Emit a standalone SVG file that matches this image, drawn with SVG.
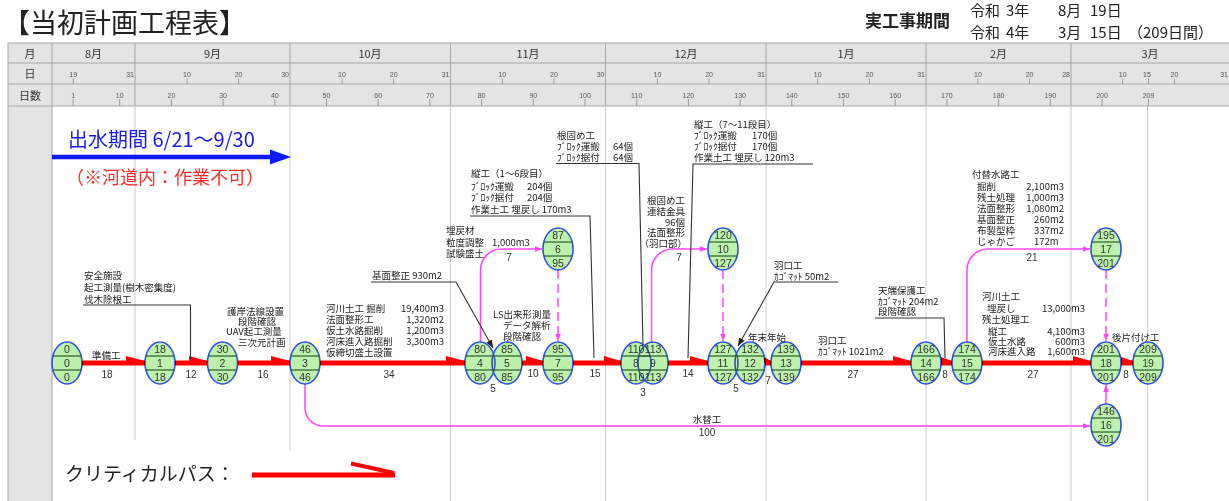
<svg xmlns="http://www.w3.org/2000/svg" width="1229" height="501" viewBox="0 0 1229 501">
<style>
.j{font-family:"Noto Sans CJK JP","Noto Sans",sans-serif;fill:#222}
.a{font-size:9.5px}
.e{text-anchor:end}
.m{text-anchor:middle}
.hdr{fill:#e4e4e4}
.g{stroke:#a6a6a6;stroke-width:1}
.vl{stroke:#cdcdcd;stroke-width:1}
.tk{font-family:"Liberation Sans",sans-serif;font-size:7px;fill:#555;text-anchor:middle}
.tke{text-anchor:end}
.tl{stroke:#888;stroke-width:0.8}
.mo{font-family:"Noto Sans CJK JP",sans-serif;font-size:11px;fill:#333;text-anchor:middle}
.nd ellipse{fill:#bdf2ad;stroke:#2f4fe0;stroke-width:1.6;mix-blend-mode:darken}
.nd line{stroke:#2e5a2e;stroke-width:1.2}
.nd text{font-family:"Liberation Sans",sans-serif;font-size:10.5px;fill:#333;text-anchor:middle}
.crit{stroke:#ff0000;stroke-width:5}
.w{fill:#ff0000}
.pk{stroke:#ff44ff;stroke-width:1.5;fill:none}
.pkd{stroke-dasharray:9 5}
.ld{stroke:#333;stroke-width:1.1;fill:none}
.du{font-family:"Liberation Sans",sans-serif;font-size:10px;fill:#333;text-anchor:middle}
</style>
<defs>
<marker id="pa" viewBox="0 0 8 8" refX="8" refY="4" markerWidth="7" markerHeight="7" markerUnits="userSpaceOnUse" orient="auto"><path d="M0,0.8 L8,4 L0,7.2 z" fill="#ff44ff"/></marker>
<marker id="ba" viewBox="0 0 8 8" refX="8" refY="4" markerWidth="8" markerHeight="8" markerUnits="userSpaceOnUse" orient="auto"><path d="M0,0.8 L8,4 L0,7.2 z" fill="#222"/></marker>
</defs>
<rect width="1229" height="501" fill="#ffffff"/>
<!-- title -->
<text class="j" x="3" y="33" font-size="27" fill="#222">【当初計画工程表】</text>
<text class="j" x="865" y="27" font-size="17" font-weight="bold">実工事期間</text>
<text class="j" font-size="15" x="970" y="16">令和<tspan x="1006">3年</tspan><tspan x="1058">8月</tspan><tspan x="1090">19日</tspan></text>
<text class="j" font-size="15" x="970" y="38">令和<tspan x="1006">4年</tspan><tspan x="1058">3月</tspan><tspan x="1090">15日</tspan><tspan x="1128">（209日間）</tspan></text>
<!-- header table -->
<g id="timescale">
<rect class="hdr" x="8" y="43" width="1221" height="63"/>
<rect class="hdr" x="8" y="106" width="44" height="395"/>
<line class="g" x1="8" y1="43" x2="1229" y2="43"/>
<line class="g" x1="8" y1="63" x2="1229" y2="63"/>
<line class="g" x1="8" y1="84" x2="1229" y2="84"/>
<line class="g" x1="8" y1="106" x2="1229" y2="106"/>
<line class="g" x1="8" y1="43" x2="8" y2="501"/>
<line class="g" x1="52" y1="43" x2="52" y2="501"/>
<g class="g">
<line x1="135" y1="43" x2="135" y2="106"/><line x1="290" y1="43" x2="290" y2="106"/><line x1="450.5" y1="43" x2="450.5" y2="106"/><line x1="605.5" y1="43" x2="605.5" y2="106"/><line x1="766" y1="43" x2="766" y2="106"/><line x1="926" y1="43" x2="926" y2="106"/><line x1="1071" y1="43" x2="1071" y2="106"/>
</g>
<text class="mo" x="30" y="57.5">月</text><text class="mo" x="30" y="78">日</text><text class="mo" x="30" y="99.5">日数</text>
<text class="mo" x="93.5" y="57.5">8月</text><text class="mo" x="212.5" y="57.5">9月</text><text class="mo" x="370" y="57.5">10月</text><text class="mo" x="528" y="57.5">11月</text><text class="mo" x="686" y="57.5">12月</text><text class="mo" x="846" y="57.5">1月</text><text class="mo" x="998.5" y="57.5">2月</text><text class="mo" x="1150" y="57.5">3月</text>
<g class="tl">
<line x1="73.2" y1="78.5" x2="73.2" y2="84"/><line x1="187" y1="78.5" x2="187" y2="84"/><line x1="238.6" y1="78.5" x2="238.6" y2="84"/><line x1="342" y1="78.5" x2="342" y2="84"/><line x1="393.7" y1="78.5" x2="393.7" y2="84"/><line x1="502.3" y1="78.5" x2="502.3" y2="84"/><line x1="554" y1="78.5" x2="554" y2="84"/><line x1="657.4" y1="78.5" x2="657.4" y2="84"/><line x1="709.1" y1="78.5" x2="709.1" y2="84"/><line x1="817.7" y1="78.5" x2="817.7" y2="84"/><line x1="869.4" y1="78.5" x2="869.4" y2="84"/><line x1="977.9" y1="78.5" x2="977.9" y2="84"/><line x1="1029.6" y1="78.5" x2="1029.6" y2="84"/><line x1="1122.7" y1="78.5" x2="1122.7" y2="84"/><line x1="1148.5" y1="78.5" x2="1148.5" y2="84"/><line x1="1174.4" y1="78.5" x2="1174.4" y2="84"/>
<line x1="73.2" y1="99" x2="73.2" y2="106"/><line x1="119.7" y1="99" x2="119.7" y2="106"/><line x1="171.4" y1="99" x2="171.4" y2="106"/><line x1="223.1" y1="99" x2="223.1" y2="106"/><line x1="274.8" y1="99" x2="274.8" y2="106"/><line x1="326.5" y1="99" x2="326.5" y2="106"/><line x1="378.2" y1="99" x2="378.2" y2="106"/><line x1="429.9" y1="99" x2="429.9" y2="106"/><line x1="481.6" y1="99" x2="481.6" y2="106"/><line x1="533.3" y1="99" x2="533.3" y2="106"/><line x1="585" y1="99" x2="585" y2="106"/><line x1="636.7" y1="99" x2="636.7" y2="106"/><line x1="688.4" y1="99" x2="688.4" y2="106"/><line x1="740.1" y1="99" x2="740.1" y2="106"/><line x1="791.8" y1="99" x2="791.8" y2="106"/><line x1="843.5" y1="99" x2="843.5" y2="106"/><line x1="895.2" y1="99" x2="895.2" y2="106"/><line x1="946.9" y1="99" x2="946.9" y2="106"/><line x1="998.6" y1="99" x2="998.6" y2="106"/><line x1="1050.3" y1="99" x2="1050.3" y2="106"/><line x1="1102" y1="99" x2="1102" y2="106"/><line x1="1148.5" y1="99" x2="1148.5" y2="106"/>
</g>
<g class="tk">
<text x="73.2" y="77">19</text><text class="tke" x="134" y="77">31</text><text x="187" y="77">10</text><text x="238.6" y="77">20</text><text class="tke" x="289" y="77">30</text><text x="342" y="77">10</text><text x="393.7" y="77">20</text><text class="tke" x="449.5" y="77">31</text><text x="502.3" y="77">10</text><text x="554" y="77">20</text><text class="tke" x="604.5" y="77">30</text><text x="657.4" y="77">10</text><text x="709.1" y="77">20</text><text class="tke" x="765" y="77">31</text><text x="817.7" y="77">10</text><text x="869.4" y="77">20</text><text class="tke" x="925" y="77">31</text><text x="977.9" y="77">10</text><text x="1029.6" y="77">20</text><text class="tke" x="1070" y="77">28</text><text x="1122.7" y="77">10</text><text x="1147" y="77">15</text><text x="1174.4" y="77">20</text><text class="tke" x="1228" y="77">31</text>
<text x="73.2" y="97.5">1</text><text x="119.7" y="97.5">10</text><text x="171.4" y="97.5">20</text><text x="223.1" y="97.5">30</text><text x="274.8" y="97.5">40</text><text x="326.5" y="97.5">50</text><text x="378.2" y="97.5">60</text><text x="429.9" y="97.5">70</text><text x="481.6" y="97.5">80</text><text x="533.3" y="97.5">90</text><text x="585" y="97.5">100</text><text x="636.7" y="97.5">110</text><text x="688.4" y="97.5">120</text><text x="740.1" y="97.5">130</text><text x="791.8" y="97.5">140</text><text x="843.5" y="97.5">150</text><text x="895.2" y="97.5">160</text><text x="946.9" y="97.5">170</text><text x="998.6" y="97.5">180</text><text x="1050.3" y="97.5">190</text><text x="1102" y="97.5">200</text><text x="1148.5" y="97.5">209</text>
</g>
</g>
<!-- chart grid -->
<g id="grid" class="vl">
<line x1="135" y1="106" x2="135" y2="440"/><line x1="290" y1="106" x2="290" y2="450"/><line x1="450.5" y1="106" x2="450.5" y2="501"/><line x1="605.5" y1="106" x2="605.5" y2="501"/><line x1="766" y1="106" x2="766" y2="501"/><line x1="926" y1="106" x2="926" y2="501"/><line x1="1071" y1="106" x2="1071" y2="501"/><line x1="1147.5" y1="106" x2="1147.5" y2="501"/>
</g>
<!-- flood period note -->
<g id="flood-note">
<text class="j" x="68" y="147" font-size="20" style="fill:#1a1ae6">出水期間 6/21～9/30</text>
<line x1="52" y1="157" x2="272" y2="157" stroke="#0a1aff" stroke-width="4.5"/>
<polygon points="270,149.5 291,157 270,164.5" fill="#0a1aff"/>
<text class="j" x="66" y="184" font-size="18" style="fill:#ff2a2a">（※河道内：作業不可）</text>
</g>
<!-- connectors -->
<g id="connectors">
<g class="crit">
<line x1="82" y1="363" x2="145" y2="363"/><line x1="175" y1="363" x2="207.5" y2="363"/><line x1="237.5" y1="363" x2="290" y2="363"/><line x1="320" y1="363" x2="465" y2="363"/><line x1="522" y1="363" x2="543" y2="363"/><line x1="573" y1="363" x2="621" y2="363"/><line x1="668" y1="363" x2="708" y2="363"/><line x1="765" y1="363" x2="771" y2="363"/><line x1="801" y1="363" x2="911" y2="363"/><line x1="941" y1="363" x2="952" y2="363"/><line x1="982" y1="363" x2="1091" y2="363"/><line x1="1121" y1="363" x2="1133" y2="363"/>
</g>
<g class="w">
<polygon points="126,356 145,361 145,363 126,363"/><polygon points="189,356 207.5,361 207.5,363 189,363"/><polygon points="271,356 290,361 290,363 271,363"/><polygon points="446,356 465,361 465,363 446,363"/><polygon points="526,356 543,361 543,363 526,363"/><polygon points="604,356 621,361 621,363 604,363"/><polygon points="690,356 708,361 708,363 690,363"/><polygon points="764,357 771,361 771,363 764,363"/><polygon points="893,356 911,361 911,363 893,363"/><polygon points="941,357 952,361 952,363 941,363"/><polygon points="1073,356 1091,361 1091,363 1073,363"/><polygon points="1121,357 1133,361 1133,363 1121,363"/>
</g>
<path class="pk" d="M305,384 V408 A18,18 0 0 0 323,426 H1090" marker-end="url(#pa)"/>
<path class="pk" d="M1106,404 V385" marker-end="url(#pa)"/>
<path class="pk" d="M480.5,342 V270 A21,21 0 0 1 501.5,249 H542" marker-end="url(#pa)"/>
<path class="pk" d="M651.5,343 V270 A21,21 0 0 1 672.5,249 H707" marker-end="url(#pa)"/>
<path class="pk" d="M967,342 V270 A21,21 0 0 1 988,249 H1090" marker-end="url(#pa)"/>
<path class="pk pkd" d="M558,270 V341" marker-end="url(#pa)"/>
<path class="pk pkd" d="M723,270 V341" marker-end="url(#pa)"/>
<path class="pk pkd" d="M1106,270 V341" marker-end="url(#pa)"/>
<path class="ld" d="M83,305 H190.5 V359"/>
<path class="ld" d="M371,282 H456 L493,348" marker-end="url(#ba)"/>
<path class="ld" d="M470,216 H590 L594,358"/>
<path class="ld" d="M556,163.5 H639 L643,346"/>
<path class="ld" d="M813,164 H693 L688,358"/>
<path class="ld" d="M838,282 H774 L738,346" marker-end="url(#ba)"/>
<path class="ld" d="M875,318 H944 L945,358"/>
<g class="du">
<text x="107" y="378">18</text><text x="191" y="378">12</text><text x="263" y="378">16</text><text x="389" y="378">34</text><text x="493" y="392">5</text><text x="533" y="377">10</text><text x="595" y="377">15</text><text x="643" y="396">3</text><text x="688" y="377">14</text><text x="736" y="392">5</text><text x="768" y="384">7</text><text x="853" y="378">27</text><text x="945" y="378">8</text><text x="1033" y="378">27</text><text x="1126" y="378">8</text>
<text x="509" y="261">7</text><text x="679" y="261">7</text><text x="1032" y="261">21</text><text x="707" y="436">100</text>
</g>
<text class="j a m" x="707" y="422.5">水替工</text>
</g>
<!-- activity annotations -->
<g id="labels" class="j a">
<text x="92" y="358.5">準備工</text>
<text x="84" y="279">安全施設<tspan x="84" y="291">起工測量(樹木密集度)</tspan><tspan x="84" y="302.5">伐木除根工</tspan></text>
<text x="227" y="315">護岸法線設置<tspan x="238" y="325">段階確認</tspan><tspan x="226" y="335">UAV起工測量</tspan><tspan x="238" y="345.5">三次元計画</tspan></text>
<text x="326" y="311.5">河川土工 掘削<tspan class="e" x="444">19,400m3</tspan><tspan x="326" y="322.5">法面整形工</tspan><tspan class="e" x="444">1,320m2</tspan><tspan x="326" y="333.5">仮土水路掘削</tspan><tspan class="e" x="444">1,200m3</tspan><tspan x="326" y="344.5">河床進入路掘削</tspan><tspan class="e" x="444">3,300m3</tspan><tspan x="326" y="355.5">仮締切盛土設置</tspan></text>
<text x="372" y="279">基面整正 930m2</text>
<text x="471" y="177">縦工（1～6段目）<tspan x="471" y="189.5">ﾌﾞﾛｯｸ運搬</tspan><tspan x="527">204個</tspan><tspan x="471" y="201">ﾌﾞﾛｯｸ据付</tspan><tspan x="527">204個</tspan><tspan x="471" y="213">作業土工 埋戻し 170m3</tspan></text>
<text x="557" y="138.5">根固め工<tspan x="557" y="149.5">ﾌﾞﾛｯｸ運搬</tspan><tspan x="613">64個</tspan><tspan x="557" y="161">ﾌﾞﾛｯｸ据付</tspan><tspan x="613">64個</tspan></text>
<text class="e" x="685" y="203.5">根固め工<tspan x="685" y="214.5">連結金具</tspan><tspan x="685" y="225.5">96個</tspan><tspan x="685" y="236">法面整形</tspan><tspan x="687" y="247">（羽口部）</tspan></text>
<text x="694" y="127.5">縦工（7～11段目）<tspan x="694" y="138.5">ﾌﾞﾛｯｸ運搬</tspan><tspan x="752">170個</tspan><tspan x="694" y="149.5">ﾌﾞﾛｯｸ据付</tspan><tspan x="752">170個</tspan><tspan x="694" y="161">作業土工 埋戻し 120m3</tspan></text>
<text x="446" y="233.5">埋戻材<tspan x="446" y="246">粒度調整</tspan><tspan x="492">1,000m3</tspan><tspan x="446" y="257">試験盛土</tspan></text>
<text x="493" y="317.5">LS出来形測量<tspan x="503" y="328.5">データ解析</tspan><tspan x="503" y="339.5">段階確認</tspan></text>
<text x="774" y="269">羽口工<tspan x="774" y="280">ｶｺﾞﾏｯﾄ 50m2</tspan></text>
<text x="748" y="340.5">年末年始</text>
<text x="818" y="343.5">羽口工<tspan x="818" y="355">ｶｺﾞﾏｯﾄ 1021m2</tspan></text>
<text x="878" y="293.5">天端保護工<tspan x="878" y="304.5">ｶｺﾞﾏｯﾄ 204m2</tspan><tspan x="878" y="315">段階確認</tspan></text>
<text x="972" y="178">付替水路工<tspan x="977" y="189.5">掘削</tspan><tspan class="e" x="1064">2,100m3</tspan><tspan x="977" y="201">残土処理</tspan><tspan class="e" x="1064">1,000m3</tspan><tspan x="977" y="212">法面整形</tspan><tspan class="e" x="1064">1,080m2</tspan><tspan x="977" y="222.5">基面整正</tspan><tspan class="e" x="1064">260m2</tspan><tspan x="977" y="233.5">布製型枠</tspan><tspan class="e" x="1064">337m2</tspan><tspan x="977" y="245">じゃかご</tspan><tspan x="1034">172m</tspan></text>
<text x="982" y="300">河川土工<tspan x="987" y="312">埋戻し</tspan><tspan class="e" x="1085">13,000m3</tspan><tspan x="982" y="323">残土処理工</tspan><tspan x="988" y="334.5">縦工</tspan><tspan class="e" x="1085">4,100m3</tspan><tspan x="988" y="344.5">仮土水路</tspan><tspan class="e" x="1085">600m3</tspan><tspan x="988" y="354.5">河床進入路</tspan><tspan class="e" x="1085">1,600m3</tspan></text>
<text x="1112" y="340.5">後片付け工</text>
</g>
<!-- nodes -->
<g id="n0" class="nd" transform="translate(67,363)"><ellipse rx="15" ry="21"/><line x1="-14.1" y1="-7" x2="14.1" y2="-7"/><line x1="-14.1" y1="7" x2="14.1" y2="7"/><text y="-10.4">0</text><text y="3.6">0</text><text y="17.6">0</text></g>
<g id="n1" class="nd" transform="translate(160,363)"><ellipse rx="15" ry="21"/><line x1="-14.1" y1="-7" x2="14.1" y2="-7"/><line x1="-14.1" y1="7" x2="14.1" y2="7"/><text y="-10.4">18</text><text y="3.6">1</text><text y="17.6">18</text></g>
<g id="n2" class="nd" transform="translate(222.5,363)"><ellipse rx="15" ry="21"/><line x1="-14.1" y1="-7" x2="14.1" y2="-7"/><line x1="-14.1" y1="7" x2="14.1" y2="7"/><text y="-10.4">30</text><text y="3.6">2</text><text y="17.6">30</text></g>
<g id="n3" class="nd" transform="translate(305,363)"><ellipse rx="15" ry="21"/><line x1="-14.1" y1="-7" x2="14.1" y2="-7"/><line x1="-14.1" y1="7" x2="14.1" y2="7"/><text y="-10.4">46</text><text y="3.6">3</text><text y="17.6">46</text></g>
<g id="n4" class="nd" transform="translate(480,363)"><ellipse rx="15" ry="21"/><line x1="-14.1" y1="-7" x2="14.1" y2="-7"/><line x1="-14.1" y1="7" x2="14.1" y2="7"/><text y="-10.4">80</text><text y="3.6">4</text><text y="17.6">80</text></g>
<g id="n5" class="nd" transform="translate(507,363)"><ellipse rx="15" ry="21"/><line x1="-14.1" y1="-7" x2="14.1" y2="-7"/><line x1="-14.1" y1="7" x2="14.1" y2="7"/><text y="-10.4">85</text><text y="3.6">5</text><text y="17.6">85</text></g>
<g id="n6" class="nd" transform="translate(558,249)"><ellipse rx="15" ry="21"/><line x1="-14.1" y1="-7" x2="14.1" y2="-7"/><line x1="-14.1" y1="7" x2="14.1" y2="7"/><text y="-10.4">87</text><text y="3.6">6</text><text y="17.6">95</text></g>
<g id="n7" class="nd" transform="translate(558,363)"><ellipse rx="15" ry="21"/><line x1="-14.1" y1="-7" x2="14.1" y2="-7"/><line x1="-14.1" y1="7" x2="14.1" y2="7"/><text y="-10.4">95</text><text y="3.6">7</text><text y="17.6">95</text></g>
<g id="n8" class="nd" transform="translate(636,363)"><ellipse rx="15" ry="21"/><line x1="-14.1" y1="-7" x2="14.1" y2="-7"/><line x1="-14.1" y1="7" x2="14.1" y2="7"/><text y="-10.4">110</text><text y="3.6">8</text><text y="17.6">110</text></g>
<g id="n9" class="nd" transform="translate(653,363)"><ellipse rx="15" ry="21"/><line x1="-14.1" y1="-7" x2="14.1" y2="-7"/><line x1="-14.1" y1="7" x2="14.1" y2="7"/><text y="-10.4">113</text><text y="3.6">9</text><text y="17.6">113</text></g>
<g id="n10" class="nd" transform="translate(723,249)"><ellipse rx="15" ry="21"/><line x1="-14.1" y1="-7" x2="14.1" y2="-7"/><line x1="-14.1" y1="7" x2="14.1" y2="7"/><text y="-10.4">120</text><text y="3.6">10</text><text y="17.6">127</text></g>
<g id="n11" class="nd" transform="translate(723,363)"><ellipse rx="15" ry="21"/><line x1="-14.1" y1="-7" x2="14.1" y2="-7"/><line x1="-14.1" y1="7" x2="14.1" y2="7"/><text y="-10.4">127</text><text y="3.6">11</text><text y="17.6">127</text></g>
<g id="n12" class="nd" transform="translate(750,363)"><ellipse rx="15" ry="21"/><line x1="-14.1" y1="-7" x2="14.1" y2="-7"/><line x1="-14.1" y1="7" x2="14.1" y2="7"/><text y="-10.4">132</text><text y="3.6">12</text><text y="17.6">132</text></g>
<g id="n13" class="nd" transform="translate(786,363)"><ellipse rx="15" ry="21"/><line x1="-14.1" y1="-7" x2="14.1" y2="-7"/><line x1="-14.1" y1="7" x2="14.1" y2="7"/><text y="-10.4">139</text><text y="3.6">13</text><text y="17.6">139</text></g>
<g id="n14" class="nd" transform="translate(926,363)"><ellipse rx="15" ry="21"/><line x1="-14.1" y1="-7" x2="14.1" y2="-7"/><line x1="-14.1" y1="7" x2="14.1" y2="7"/><text y="-10.4">166</text><text y="3.6">14</text><text y="17.6">166</text></g>
<g id="n15" class="nd" transform="translate(967,363)"><ellipse rx="15" ry="21"/><line x1="-14.1" y1="-7" x2="14.1" y2="-7"/><line x1="-14.1" y1="7" x2="14.1" y2="7"/><text y="-10.4">174</text><text y="3.6">15</text><text y="17.6">174</text></g>
<g id="n16" class="nd" transform="translate(1106,425)"><ellipse rx="15" ry="21"/><line x1="-14.1" y1="-7" x2="14.1" y2="-7"/><line x1="-14.1" y1="7" x2="14.1" y2="7"/><text y="-10.4">146</text><text y="3.6">16</text><text y="17.6">201</text></g>
<g id="n17" class="nd" transform="translate(1106,249)"><ellipse rx="15" ry="21"/><line x1="-14.1" y1="-7" x2="14.1" y2="-7"/><line x1="-14.1" y1="7" x2="14.1" y2="7"/><text y="-10.4">195</text><text y="3.6">17</text><text y="17.6">201</text></g>
<g id="n18" class="nd" transform="translate(1106,363)"><ellipse rx="15" ry="21"/><line x1="-14.1" y1="-7" x2="14.1" y2="-7"/><line x1="-14.1" y1="7" x2="14.1" y2="7"/><text y="-10.4">201</text><text y="3.6">18</text><text y="17.6">201</text></g>
<g id="n19" class="nd" transform="translate(1148,363)"><ellipse rx="15" ry="21"/><line x1="-14.1" y1="-7" x2="14.1" y2="-7"/><line x1="-14.1" y1="7" x2="14.1" y2="7"/><text y="-10.4">209</text><text y="3.6">19</text><text y="17.6">209</text></g>
<!-- legend -->
<g id="legend">
<text class="j" x="65" y="481" font-size="19">クリティカルパス：</text>
<line x1="252" y1="475" x2="395" y2="475" stroke="#ff0000" stroke-width="5"/>
<line x1="351" y1="463.5" x2="394" y2="473" stroke="#ff0000" stroke-width="4"/>
</g>
</svg>
